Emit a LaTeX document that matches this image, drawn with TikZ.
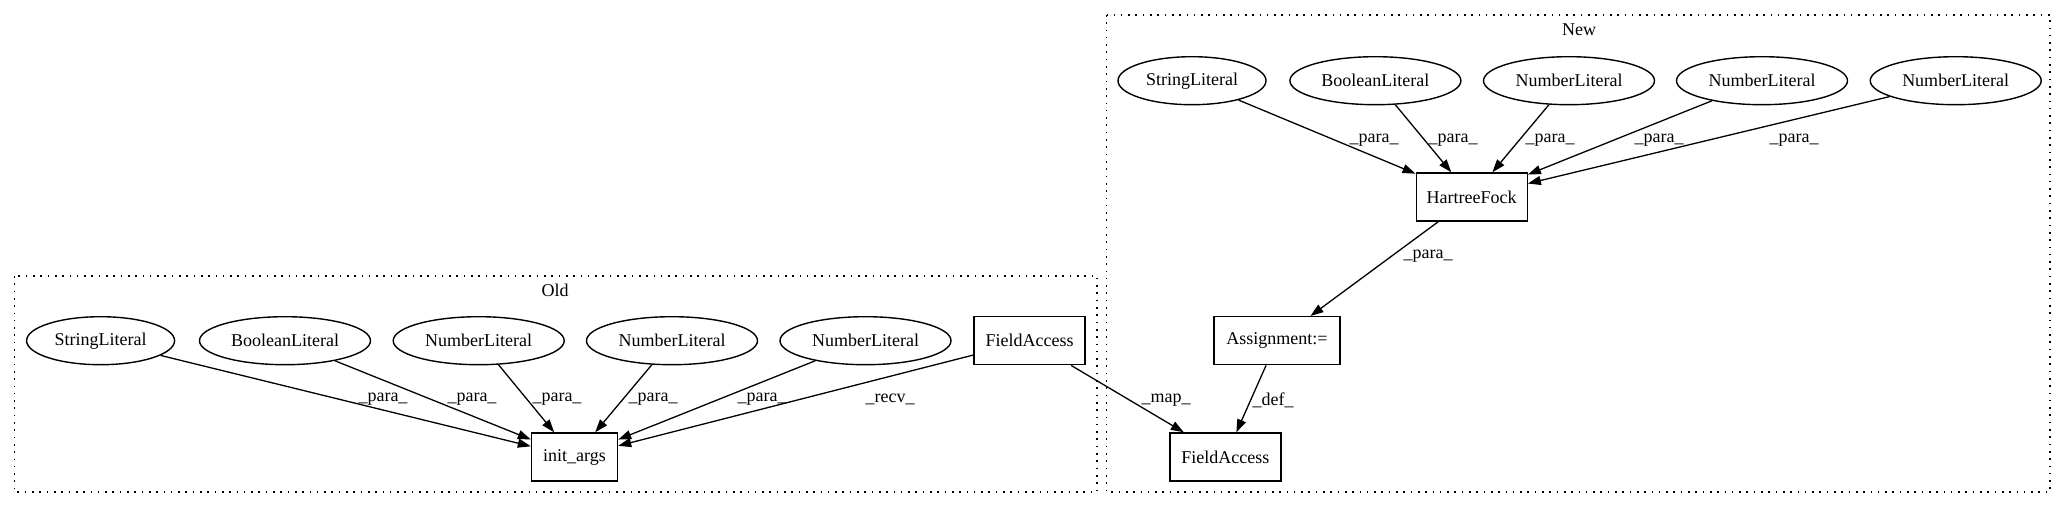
\documentclass[tikz,border=0pt]{standalone}
\usepackage{fontspec}
\setmainfont{Liberation Serif}
\usetikzlibrary{shapes.geometric,arrows.meta}
\begin{document}
\begin{tikzpicture}[x=1pt,y=-1pt,
  every node/.style={font=\fontsize{18}{21}\selectfont},
  lit/.style={draw,ellipse,line width=1.4pt,inner sep=0pt,minimum height=48pt},
  box/.style={draw,rectangle,line width=1.4pt,inner sep=0pt,minimum height=48pt},
  edge/.style={line width=1.3pt,-{Triangle[length=13pt,width=9pt]}},
  lbl/.style={inner sep=1pt},
  cluster/.style={line width=1.5pt,dash pattern=on 1.6pt off 5.7pt}]
\useasboundingbox (0,0) rectangle (2068,508);
% clusters
\draw[cluster] (14.5,276) rectangle (1097,492);
\draw[cluster] (1106.5,15) rectangle (2050,492);
\node (oldt) at (555,290) {Old};
\node (newt) at (1579,30) {New};
% Old nodes
\node[lit,minimum width=148pt] (os) at (100.6,340.7) {StringLiteral};
\node[lit,minimum width=171pt] (ob) at (285,340.7) {BooleanLiteral};
\node[lit,minimum width=171pt] (on1) at (478.7,340.7) {NumberLiteral};
\node[lit,minimum width=171pt] (on2) at (672,340.7) {NumberLiteral};
\node[lit,minimum width=171pt] (on3) at (865.5,340.7) {NumberLiteral};
\node[box,minimum width=111pt] (ofa) at (1029.5,340.7) {FieldAccess};
\node[box,minimum width=86pt] (init) at (574.5,457) {init\_args};
% New nodes
\node[lit,minimum width=148pt] (ns) at (1192,80.7) {StringLiteral};
\node[lit,minimum width=171pt] (nb) at (1375.4,80.7) {BooleanLiteral};
\node[lit,minimum width=171pt] (nn1) at (1569,80.7) {NumberLiteral};
\node[lit,minimum width=171pt] (nn2) at (1762,80.7) {NumberLiteral};
\node[lit,minimum width=171pt] (nn3) at (1955.7,80.7) {NumberLiteral};
\node[box,minimum width=111pt] (hf) at (1471.7,197) {HartreeFock};
\node[box,minimum width=126pt] (asg) at (1277,340.7) {Assignment:=};
\node[box,minimum width=111pt] (nfa) at (1225.4,457) {FieldAccess};
% Old edges
\draw[edge] (os) -- (init);
\draw[edge] (ob) -- (init);
\draw[edge] (on1) -- (init);
\draw[edge] (on2) -- (init);
\draw[edge] (on3) -- (init);
\draw[edge] (ofa) -- (init);
\node[lbl] (l1) at (383,399) {\_para\_};
\node[lbl] (l2) at (472,399) {\_para\_};
\node[lbl] (l3) at (557,399) {\_para\_};
\node[lbl] (l4) at (653,399) {\_para\_};
\node[lbl] (l5) at (762,399) {\_para\_};
\node[lbl] (l6) at (890,399) {\_recv\_};
% New edges
\draw[edge] (ns) -- (hf);
\draw[edge] (nb) -- (hf);
\draw[edge] (nn1) -- (hf);
\draw[edge] (nn2) -- (hf);
\draw[edge] (nn3) -- (hf);
\draw[edge] (hf) -- (asg);
\draw[edge] (asg) -- (nfa);
\draw[edge] (ofa) -- (nfa);
\node[lbl] (m1) at (1374,140) {\_para\_};
\node[lbl] (m2) at (1453,140) {\_para\_};
\node[lbl] (m3) at (1550,140) {\_para\_};
\node[lbl] (m4) at (1659,140) {\_para\_};
\node[lbl] (m5) at (1794,140) {\_para\_};
\node[lbl] (m6) at (1428,256) {\_para\_};
\node[lbl] (m7) at (1166,400) {\_map\_};
\node[lbl] (m8) at (1273,400) {\_def\_};
\end{tikzpicture}
\end{document}
